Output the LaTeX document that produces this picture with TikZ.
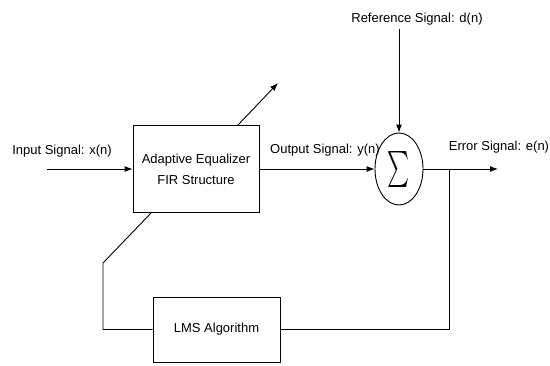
\documentclass[tikz,border=0pt]{standalone}
\usepackage{fontspec}
\setmainfont{Liberation Sans}
\usepackage{graphicx}
\usetikzlibrary{arrows.meta,shapes.geometric}

\begin{document}
\begin{tikzpicture}[x=1pt, y=-1pt, font=\fontsize{13}{21}\selectfont, line width=0.9pt, -{Latex[length=8pt,width=6pt]}]
	\useasboundingbox (0,0) rectangle (550,365);
	\node[draw, minimum width=126pt, minimum height=87pt, align=center] (eq) at (196,169) {Adaptive Equalizer\\FIR Structure};
	\node[draw, ellipse, minimum width=48pt, minimum height=72pt, inner sep=0pt] (sum) at (399,169) {\raisebox{2pt}{\resizebox*{22pt}{36pt}{$\sum$}}};
	\node[draw, minimum width=127pt, minimum height=65pt] (lms) at (216.5,329.5) {LMS Algorithm};
	\node (inlab) at (62,151) {Input Signal: x(n)};
	\node (outlab) at (325,150) {Output Signal: y(n)};
	\node (ref) at (417,19) {Reference Signal: d(n)};
	\node (errlab) at (499,147) {Error Signal: e(n)};
	\coordinate (xin) at (47,169);
	\coordinate (eout) at (498,169);
	\coordinate (tap) at (449,169);
	\coordinate (bend) at (103,263);
	\coordinate (adj) at (152,212);
	\coordinate (adjtop) at (238,125);
	\coordinate (tune) at (278,83);
	\draw (xin) -- (eq.west);
	\draw (eq.east) -- (sum.west);
	\draw (ref.south -| sum.north) -- (sum.north);
	\draw (sum.east) -- (eout);
	\draw[-] (tap) |- (lms.east);
	\draw[-] (lms.west) -| (bend) -- (adj);
	\draw (adjtop) -- (tune);
\end{tikzpicture}
\end{document}
